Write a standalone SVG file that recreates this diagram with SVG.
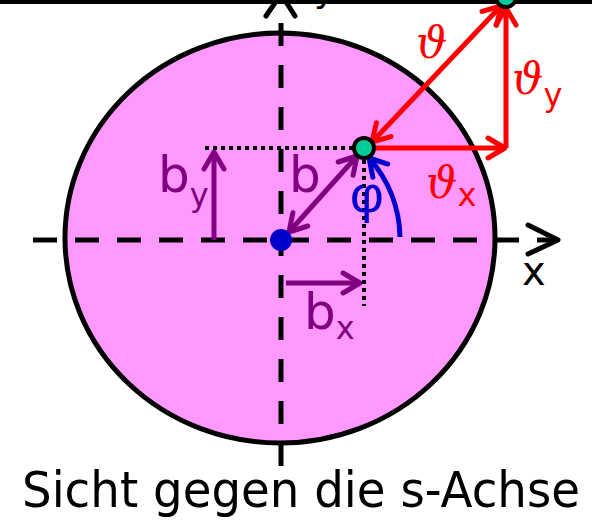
<svg xmlns="http://www.w3.org/2000/svg" width="592" height="523" viewBox="0 0 592 523">
<style>
.ax{stroke:#000;stroke-width:5;fill:none}
.dash{stroke-dasharray:24 18}
.dot{stroke:#000;stroke-width:4;stroke-dasharray:4 4;fill:none}
.red{stroke:#FF0000;stroke-width:5;fill:none}
.pur{stroke:#800080;stroke-width:5;fill:none}
.blu{stroke:#0000CC;stroke-width:5;fill:none}
.lbl{font-family:"DejaVu Sans",Verdana,sans-serif}
.th{font-family:"DejaVu Serif","Liberation Serif",serif;font-style:italic}
</style>
<defs>
<marker id="mr" viewBox="0 0 22 26" refX="20" refY="13" markerWidth="22" markerHeight="26" markerUnits="userSpaceOnUse" orient="auto-start-reverse">
<path d="M3,3 L20,13 L3,23" fill="none" stroke="#FF0000" stroke-width="5" stroke-linecap="round" stroke-linejoin="round"/>
</marker>
<marker id="mp" viewBox="0 0 22 26" refX="20" refY="13" markerWidth="22" markerHeight="26" markerUnits="userSpaceOnUse" orient="auto-start-reverse">
<path d="M3,3 L20,13 L3,23" fill="none" stroke="#800080" stroke-width="5" stroke-linecap="round" stroke-linejoin="round"/>
</marker>
<marker id="mb" viewBox="0 0 22 26" refX="20" refY="13" markerWidth="22" markerHeight="26" markerUnits="userSpaceOnUse" orient="auto-start-reverse">
<path d="M3,3 L20,13 L3,23" fill="none" stroke="#0000CC" stroke-width="5" stroke-linecap="round" stroke-linejoin="round"/>
</marker>
</defs>
<rect x="0" y="0" width="592" height="4" fill="#000"/>
<g id="disk">
<ellipse cx="280" cy="238" rx="215" ry="205" fill="#FF99FF" stroke="#000" stroke-width="5"/>
</g>
<g id="connectors">
<line class="ax dash" x1="33" y1="240" x2="537" y2="240"/>
<line class="ax" x1="537" y1="240" x2="558" y2="240"/>
<polyline class="ax" points="528,225 558,240 528,254" stroke-linecap="round" stroke-linejoin="round"/>
<line class="ax dash" x1="281" y1="466" x2="281" y2="22" style="stroke-dasharray:23 19"/>
<polyline class="ax" points="266,16 281,-6 295,16" stroke-linecap="round" stroke-linejoin="round"/>
<line class="dot" x1="205" y1="148" x2="358" y2="148"/>
<line class="dot" x1="364" y1="160" x2="364" y2="306"/>
<line class="pur" x1="214" y1="240" x2="214" y2="152" marker-end="url(#mp)"/>
<line class="pur" x1="289" y1="232" x2="357" y2="156" marker-start="url(#mp)" marker-end="url(#mp)"/>
<line class="pur" x1="286" y1="283" x2="360" y2="283" marker-end="url(#mp)"/>
<path class="blu" d="M400,237 A122,122 0 0 0 369,158" marker-end="url(#mb)"/>
<line class="red" x1="374" y1="148" x2="505" y2="148" marker-end="url(#mr)"/>
<line class="red" x1="506" y1="148" x2="506" y2="8" marker-end="url(#mr)"/>
<line class="red" x1="372" y1="142" x2="501" y2="6" marker-start="url(#mr)" marker-end="url(#mr)"/>
</g>
<g id="center">
<circle cx="281" cy="240" r="11" fill="#0000CC"/>
</g>
<g id="point">
<circle cx="364" cy="148" r="10" fill="#00CC99" stroke="#000" stroke-width="4"/>
</g>
<g id="point-top">
<circle cx="506" cy="-3" r="10" fill="#00CC99" stroke="#000" stroke-width="4"/>
</g>
<g id="labels">
<text class="lbl" x="158" y="192" font-size="50" fill="#800080">b<tspan font-size="32" dy="14">y</tspan></text>
<text class="lbl" x="289" y="192" font-size="50" fill="#800080">b</text>
<text class="lbl" x="304" y="329" font-size="50" fill="#800080">b<tspan font-size="32" dy="10">x</tspan></text>
<text x="350" y="212" font-size="52" fill="#0000CC" font-family="'Liberation Sans',Arial,sans-serif">φ</text>
<text class="th" x="416" y="58" font-size="44" fill="#FF0000">ϑ</text>
<text class="th" x="512" y="94" font-size="44" fill="#FF0000">ϑ<tspan class="lbl" font-style="normal" font-size="32" dy="12">y</tspan></text>
<text class="th" x="426" y="198" font-size="44" fill="#FF0000">ϑ<tspan class="lbl" font-style="normal" font-size="32" dy="8">x</tspan></text>
<text class="lbl" x="522" y="285" font-size="40" fill="#000">x</text>
<text x="314" y="2" font-size="36" fill="#000" font-family="'DejaVu Sans',sans-serif">y</text>
<text class="lbl" x="22" y="507" font-size="50" fill="#000" textLength="558" lengthAdjust="spacingAndGlyphs">Sicht gegen die s-Achse</text>
</g>
</svg>
